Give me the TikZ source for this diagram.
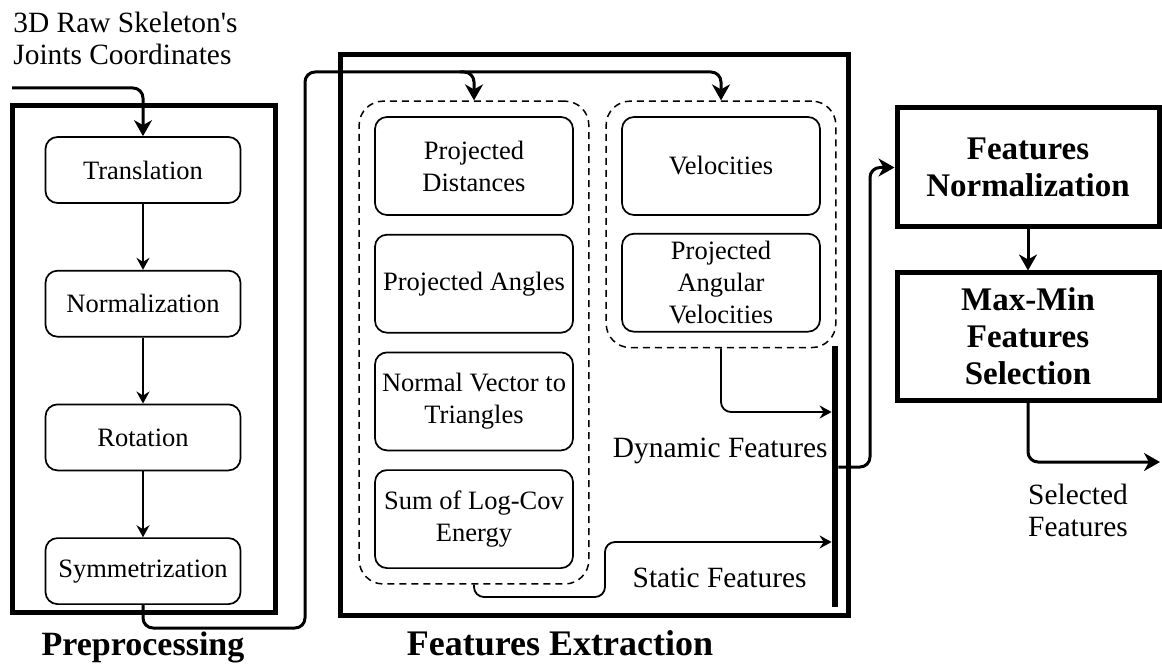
\documentclass[tikz,border=0pt]{standalone}
\usepackage{fontspec}
\setmainfont{Liberation Serif}
\usetikzlibrary{arrows.meta,positioning,fit}
\newcommand\boxfont{\fontsize{13.25}{16}\selectfont}
\newcommand\tagfont{\fontsize{14.7}{16}\selectfont}
\newcommand\headfont{\bfseries\fontsize{16.5}{18.5}\selectfont}
\tikzset{
	stepbox/.style={rectangle, draw, rounded corners=6pt, line width=0.85pt,
		minimum width=97.5pt, minimum height=33pt, align=center, font=\boxfont},
	featbox/.style={stepbox, minimum width=99pt, minimum height=49pt},
	groupbox/.style={draw, dash pattern=on 3.5pt off 2.5pt, rounded corners=12pt,
		line width=0.75pt, inner sep=7.5pt},
	stagebox/.style={rectangle, draw, line width=2.5pt, inner sep=0pt},
	procbox/.style={stagebox, minimum width=131pt, align=center, font=\headfont},
	bigarr/.style={-{Stealth[length=8pt, width=9pt, inset=2.5pt]}, line width=1.5pt, rounded corners=5pt},
	thinarr/.style={-{Stealth[length=6pt, width=6.5pt, inset=2pt]}, line width=0.9pt, rounded corners=5pt},
	tag/.style={font=\tagfont, inner sep=0pt}
}
\begin{document}
\begin{tikzpicture}[x=0.5pt, y=-0.5pt]
	\useasboundingbox (0,0) rectangle (1162,668);
	% stage frames
	\node[stagebox, minimum width=131.5pt, minimum height=253pt] (prebox) at (143.5,359) {};
	\node[stagebox, minimum width=254pt, minimum height=280pt] (extbox) at (594,335) {};
	\node[font=\headfont\fontsize{17}{19}\selectfont, anchor=base, inner sep=0pt] (prelab) at (143,655) {Preprocessing};
	\node[font=\headfont\fontsize{18}{20}\selectfont, anchor=base, inner sep=0pt] (extlab) at (560,655) {Features Extraction};
	% preprocessing steps
	\node[stepbox] (trans) at (143,170) {Translation};
	\node[stepbox, below=33pt of trans] (norm) {Normalization};
	\node[stepbox, below=33pt of norm] (rot) {Rotation};
	\node[stepbox, below=33pt of rot] (sym) {Symmetrization};
	% static features
	\node[featbox] (pdist) at (474,166) {Projected\\Distances};
	\node[featbox, below=9pt of pdist] (pang) {Projected Angles};
	\node[featbox, below=9pt of pang] (nvec) {Normal Vector to\\Triangles};
	\node[featbox, below=9pt of nvec] (logcov) {Sum of Log-Cov\\Energy};
	\node[groupbox, fit=(pdist)(logcov)] (grp1) {};
	% dynamic features
	\node[featbox] (vel) at (721,166) {Velocities};
	\node[featbox, below=8.5pt of vel] (angvel) {Projected\\Angular\\Velocities};
	\node[groupbox, fit=(vel)(angvel)] (grp2) {};
	\node[fill, inner sep=0pt, minimum width=3pt, minimum height=130.5pt] (joinbar) at (835,476.5) {};
	\node[tag, anchor=base east] (dynlab) at (828,457) {Dynamic Features};
	\node[tag, anchor=base east] (statlab) at (807,587) {Static Features};
	% normalization and selection
	\node[procbox, minimum height=59.5pt] (fnorm) at (1028,167.5) {Features\\Normalization};
	\node[procbox, minimum height=63.5pt, below=20.5pt of fnorm] (maxmin) {Max-Min\\Features\\Selection};
	\node[tag, align=center] (sellab) at (1078,510) {Selected\\Features};
	\node[tag, anchor=north west, align=left] (inlab) at (13,12) {3D Raw Skeleton\textquotesingle s\\Joints Coordinates};
	\coordinate (src) at (12,88);
	\coordinate (out) at (1160,462);
	% connectors
	\draw[bigarr] (src) -| (trans.north);
	\draw[thinarr] (trans) -- (norm);
	\draw[thinarr] (norm) -- (rot);
	\draw[thinarr] (rot) -- (sym);
	\draw[bigarr] (sym.south) |- (305,628) -- (305,72) -| (grp1.north);
	\draw[bigarr] (460,72) -| (grp2.north);
	\draw[thinarr] (grp2.south) |- (joinbar.west |- 0,412);
	\draw[thinarr] (grp1.south) |- (605,597) |- (joinbar.west |- 0,542);
	\draw[bigarr] (joinbar.east |- 0,467) -| (870,300) |- (fnorm.west);
	\draw[bigarr] (fnorm) -- (maxmin);
	\draw[bigarr] (maxmin.south) |- (out);
\end{tikzpicture}
\end{document}
